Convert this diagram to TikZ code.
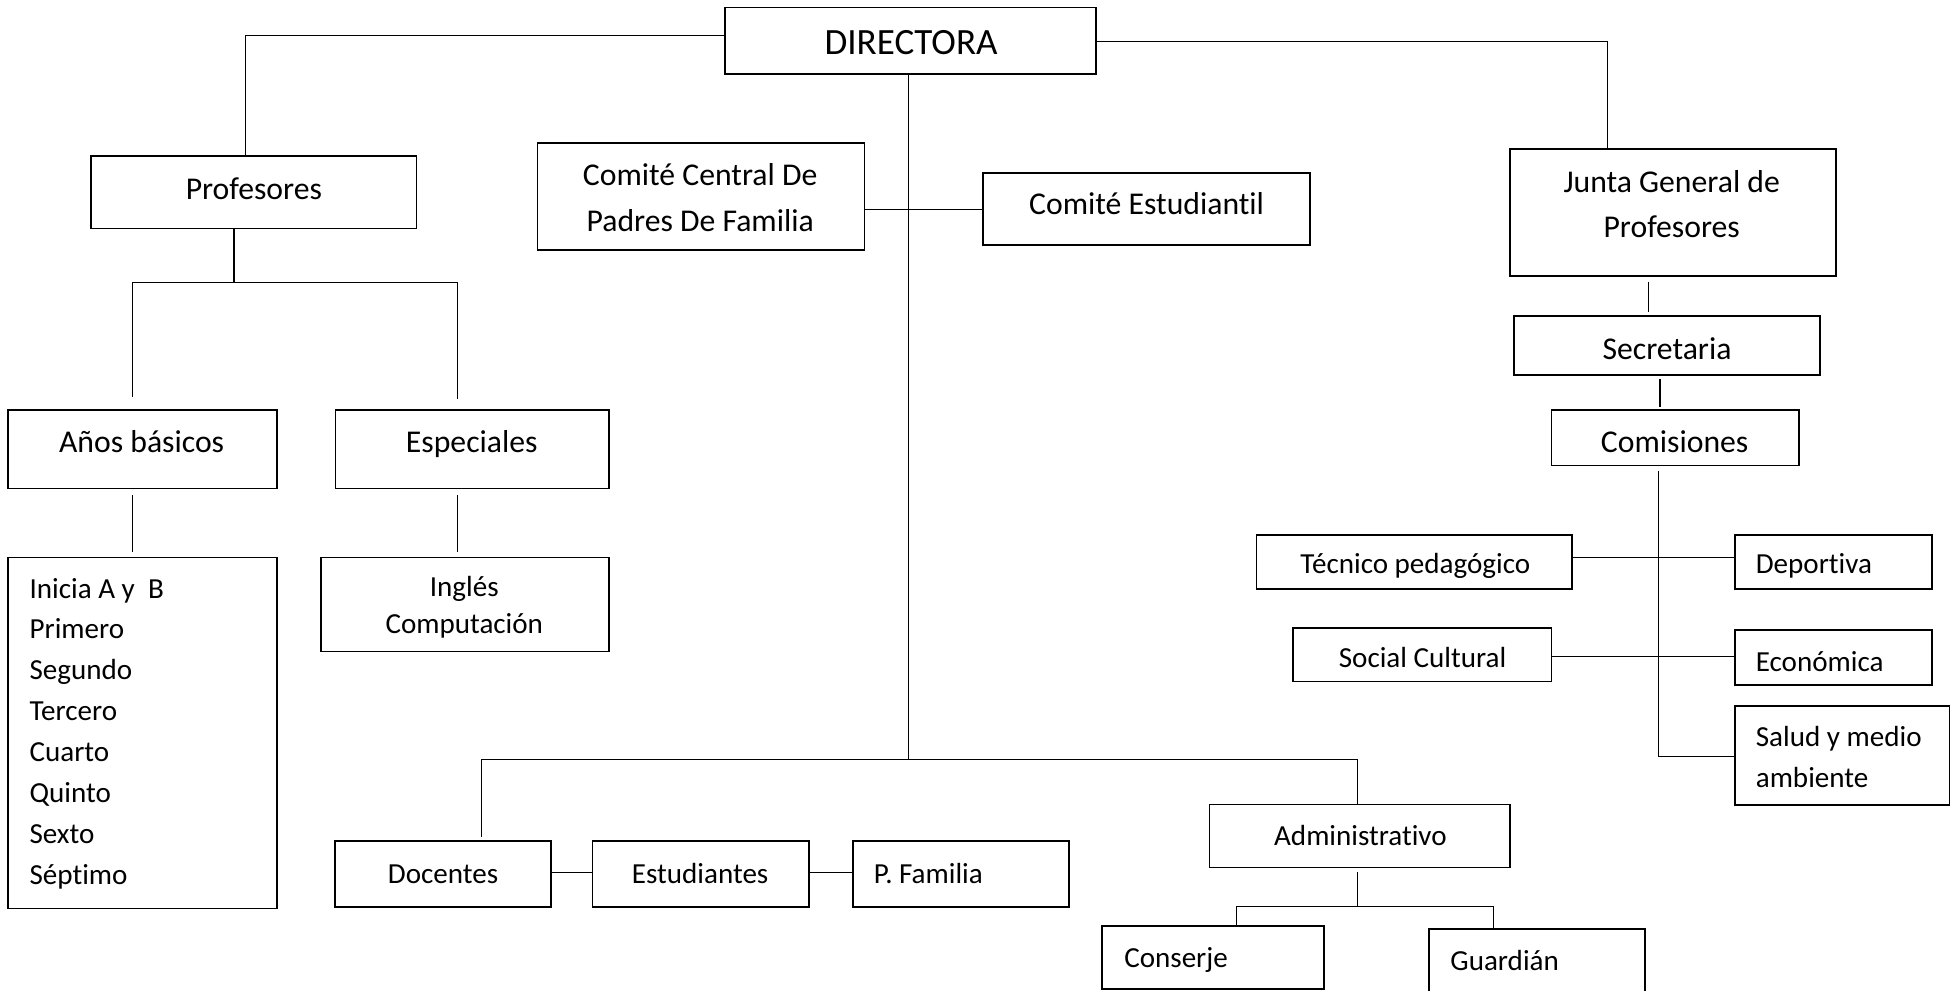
\documentclass[tikz,border=0pt]{standalone}
\usepackage{fontspec}
\setmainfont{Carlito}[Ligatures=NoCommon]
\usetikzlibrary{fit}
\begin{document}
\begin{tikzpicture}[x=1pt,y=-1pt,
  box/.style={draw, line width=1.3pt, inner sep=0pt},
  conn/.style={line width=0.85pt},
  txt/.style={inner sep=0pt, text height=0.65em, text depth=0pt, yshift=-5.5pt},
  fs/.style={txt, font=\fontsize{23.3}{28}\selectfont},
  fm/.style={txt, font=\fontsize{25.4}{30}\selectfont},
  fl/.style={txt, font=\fontsize{29.7}{34}\selectfont}]
\useasboundingbox (0,0) rectangle (1568,794);

% boxes
\node[box, fit={(581,6)(878,59.3)}] (dir) {};
\node[box, fit={(73,125)(333.7,183)}] (prof) {};
\node[box, fit={(430.8,114.8)(692.5,200.3)}] (ccp) {};
\node[box, fit={(787.5,138.4)(1049.8,196.3)}] (ce) {};
\node[box, fit={(1209.8,119.4)(1471,221)}] (junta) {};
\node[box, fit={(1213,253.2)(1458,300.5)}] (secr) {};
\node[box, fit={(1243,328.3)(1441.6,373)}] (comi) {};
\node[box, fit={(1006.7,428.7)(1259.6,472)}] (tec) {};
\node[box, fit={(1390,428.7)(1548,472)}] (dep) {};
\node[box, fit={(1036,503)(1243,546)}] (soc) {};
\node[box, fit={(1390,505)(1548,549)}] (eco) {};
\node[box, fit={(1390,565.5)(1562,645)}] (sal) {};
\node[box, fit={(6.6,328.5)(221.8,391.3)}] (anos) {};
\node[box, fit={(268.8,328.5)(488,391.3)}] (esp) {};
\node[box, fit={(6.6,446.6)(221.8,727.8)}] (list) {};
\node[box, fit={(257,446.6)(488,522)}] (ing) {};
\node[box, fit={(268.3,673.9)(441.5,726.5)}] (doc) {};
\node[box, fit={(474.8,673.9)(648,726.5)}] (est) {};
\node[box, fit={(683.2,673.9)(856.6,726.5)}] (pf) {};
\node[box, fit={(969,644.5)(1209.8,695)}] (adm) {};
\node[box, fit={(883,742)(1060.6,792.2)}] (cons) {};
\node[box, fit={(1145,744.1)(1317.8,800)}] (guar) {};

% texts
\node[fl] (tdir) at (730,34.7) {DIRECTORA};
\node[fm] (tprof) at (203.4,150.9) {Profesores};
\node[fm] (tccp1) at (561,140.2) {Comité Central De};
\node[fm] (tccp2) at (561,176.8) {Padres De Familia};
\node[fm] (tce) at (918.7,163.5) {Comité Estudiantil};
\node[fm] (tj1) at (1339.4,145.5) {Junta General de};
\node[fm] (tj2) at (1339.4,181.6) {Profesores};
\node[fm] (tsecr) at (1335.6,279) {Secretaria};
\node[fm] (tcomi) at (1341.8,353.8) {Comisiones};
\node[fs] (ttec) at (1134,450.5) {Técnico pedagógico};
\node[fs, anchor=west] (tdep) at (1406.6,451) {Deportiva};
\node[fs] (tsoc) at (1139.8,526) {Social Cultural};
\node[fs, anchor=west] (teco) at (1406.6,529) {Económica};
\node[fs, anchor=west] (tsal1) at (1406.6,589) {Salud y medio};
\node[fs, anchor=west] (tsal2) at (1406.6,622.4) {ambiente};
\node[fm] (tanos) at (113.5,354) {Años básicos};
\node[fm] (tesp) at (378,354) {Especiales};
\foreach \t [count=\i from 0] in {Inicia A y~~B,Primero,Segundo,Tercero,Cuarto,Quinto,Sexto,Séptimo}
  \node[fs, anchor=west] (tl\i) at (23.5,470.4+32.8*\i) {\t};
\node[fs] (ting1) at (372,469) {Inglés};
\node[fs] (ting2) at (372,499) {Computación};
\node[fs] (tdoc) at (355,699) {Docentes};
\node[fs] (test) at (561,699) {Estudiantes};
\node[fs, anchor=west] (tpf) at (700,699) {P. Familia};
\node[fs] (tadm) at (1090,669) {Administrativo};
\node[fs, anchor=west] (tcons) at (900.6,766.6) {Conserje};
\node[fs, anchor=west] (tguar) at (1161.9,769.2) {Guardián};

% free ends of connectors
\coordinate (pa) at (106.3,317.8);
\coordinate (pe) at (366.4,319.5);
\coordinate (a1) at (106.3,396.7);
\coordinate (a2) at (106.3,442.6);
\coordinate (e1) at (366.4,396.7);
\coordinate (e2) at (366.4,442);
\coordinate (dd) at (385.8,670.4);
\coordinate (j1) at (1321,225.7);
\coordinate (j2) at (1321,249.7);
\coordinate (s1) at (1330,304);
\coordinate (s2) at (1330,326);
\coordinate (c1) at (1328.6,377);
\coordinate (ad) at (1088,699);

% connectors
\draw[conn] (dir.west |- 0,28.8) -| (196.7,0 |- prof.north);
\draw[conn] (dir.east |- 0,32.9) -| (1288,0 |- junta.north);
\draw[conn] (187.5,0 |- prof.south) -- (187.5,226);
\draw[conn] (pa) |- (pe |- 0,226) -- (pe);
\draw[conn] (a1) -- (a2);
\draw[conn] (e1) -- (e2);
\draw[conn] (727.7,0 |- dir.south) -- (727.7,608.7);
\draw[conn] (dd) |- (1088,608.7) -- (1088,0 |- adm.north);
\draw[conn] (ccp.east |- 0,167.5) -- (ce.west |- 0,167.5);
\draw[conn] (j1) -- (j2);
\draw[conn] (s1) -- (s2);
\draw[conn] (c1) |- (sal.west |- 0,606.3);
\draw[conn] (tec.east |- 0,446.6) -- (dep.west |- 0,446.6);
\draw[conn] (soc.east |- 0,526) -- (eco.west |- 0,526);
\draw[conn] (doc.east |- 0,699.3) -- (est.west |- 0,699.3);
\draw[conn] (est.east |- 0,699.3) -- (pf.west |- 0,699.3);
\draw[conn] (ad) -- (1088,726.5);
\draw[conn] (991,0 |- cons.north) |- (1196.5,726.5) -- (1196.5,0 |- guar.north);
\end{tikzpicture}
\end{document}
